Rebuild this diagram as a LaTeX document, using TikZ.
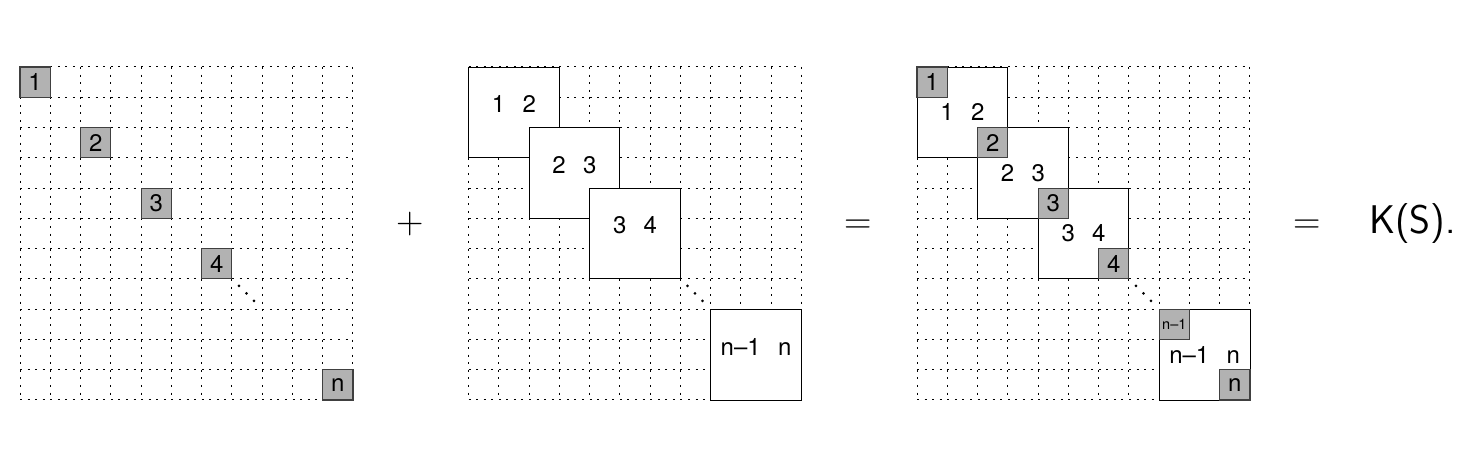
\documentclass[tikz,border=0pt]{standalone}
\usepackage{fontspec}
\newfontfamily\helv{TeX Gyre Heros}
\begin{document}
\begin{tikzpicture}[x=1pt,y=-1pt,
  gridline/.style={line width=1pt, black, dash pattern=on 2pt off 5.57pt},
  graybox/.style={draw=black!75, line width=1.1pt, fill=black!30, minimum size=30.27pt, inner sep=0pt, font=\helv\fontsize{24}{24}\selectfont},
  smallgray/.style={graybox, font=\helv\fontsize{14.5}{14.5}\selectfont},
  block/.style={draw=black, line width=0.9pt, fill=white, minimum size=90.81pt, inner sep=0pt},
  blabel/.style={font=\helv\fontsize{24}{24}\selectfont, inner sep=0pt},
  opsign/.style={font=\fontsize{38}{38}\selectfont, inner sep=0pt, anchor=base},
  dotmark/.style={fill=black}]
\useasboundingbox (0,0) rectangle (1482,468);
\def\cw{30.27}
% dotted grids
\foreach \gx in {20,468.5,917}{
  \foreach \i in {0,...,11}{
    \draw[gridline] ({\gx+\i*\cw},67) -- ({\gx+\i*\cw},{67+11*\cw});
    \draw[gridline] (\gx,{67+\i*\cw}) -- ({\gx+11*\cw},{67+\i*\cw});
  }
}
% ---- grid 1
\foreach \k/\lab in {0/1,2/2,4/3,6/4,10/n}{
  \node[graybox] (p\k) at ({20+(\k+0.5)*\cw},{67+(\k+0.5)*\cw}) {\lab};
}
\foreach \d in {7,14.5,22}{
  \fill[dotmark] ({20+7*\cw+\d},{67+7*\cw+\d}) circle (1.5);
}
% ---- grid 2
\foreach \k/\lab in {0/{1\hspace{0.72em}2},2/{2\hspace{0.72em}3},4/{3\hspace{0.72em}4},8/{n\textendash1\hspace{0.72em}n}}{
  \node[block] (q\k) at ({468.5+(\k+1.5)*\cw},{67+(\k+1.5)*\cw}) {};
  \node[blabel] (ql\k) at ({468.5+(\k+1.5)*\cw},{67+(\k+1.5)*\cw-8}) {\lab};
}
\foreach \d in {7,14.5,22}{
  \fill[dotmark] ({468.5+7*\cw+\d},{67+7*\cw+\d}) circle (1.5);
}
% ---- grid 3
\node[block] (r0) at ({917+1.5*\cw},{67+1.5*\cw}) {};
\node[blabel] (rl0) at ({917+1.5*\cw},{67+1.5*\cw}) {1\hspace{0.72em}2};
\node[graybox] (s0) at ({917+0.5*\cw},{67+0.5*\cw}) {1};
\node[block] (r2) at ({917+3.5*\cw},{67+3.5*\cw}) {};
\node[blabel] (rl2) at ({917+3.5*\cw},{67+3.5*\cw}) {2\hspace{0.72em}3};
\node[graybox] (s2) at ({917+2.5*\cw},{67+2.5*\cw}) {2};
\node[block] (r4) at ({917+5.5*\cw},{67+5.5*\cw}) {};
\node[blabel] (rl4) at ({917+5.5*\cw},{67+5.5*\cw}) {3\hspace{0.72em}4};
\node[graybox] (s4) at ({917+4.5*\cw},{67+4.5*\cw}) {3};
\node[graybox] (s6) at ({917+6.5*\cw},{67+6.5*\cw}) {4};
\node[block] (r8) at ({917+9.5*\cw},{67+9.5*\cw}) {};
\node[blabel] (rl8) at ({917+9.5*\cw},{67+9.5*\cw}) {n\textendash1\hspace{0.72em}n};
\node[smallgray] (s8) at ({917+8.5*\cw},{67+8.5*\cw}) {n\textendash1};
\node[graybox] (s10) at ({917+10.5*\cw},{67+10.5*\cw}) {n};
\foreach \d in {7,14.5,22}{
  \fill[dotmark] ({917+7*\cw+\d},{67+7*\cw+\d}) circle (1.5);
}
% ---- operators
\node[opsign] (plus) at (410,233) {+};
\node[opsign] (eq1) at (858,233) {=};
\node[opsign] (eq2) at (1307,233) {=};
\node[font=\sffamily\fontsize{40}{40}\selectfont, anchor=base west, inner sep=0pt] (ks) at (1369,233) {K(S).};
\end{tikzpicture}
\end{document}
